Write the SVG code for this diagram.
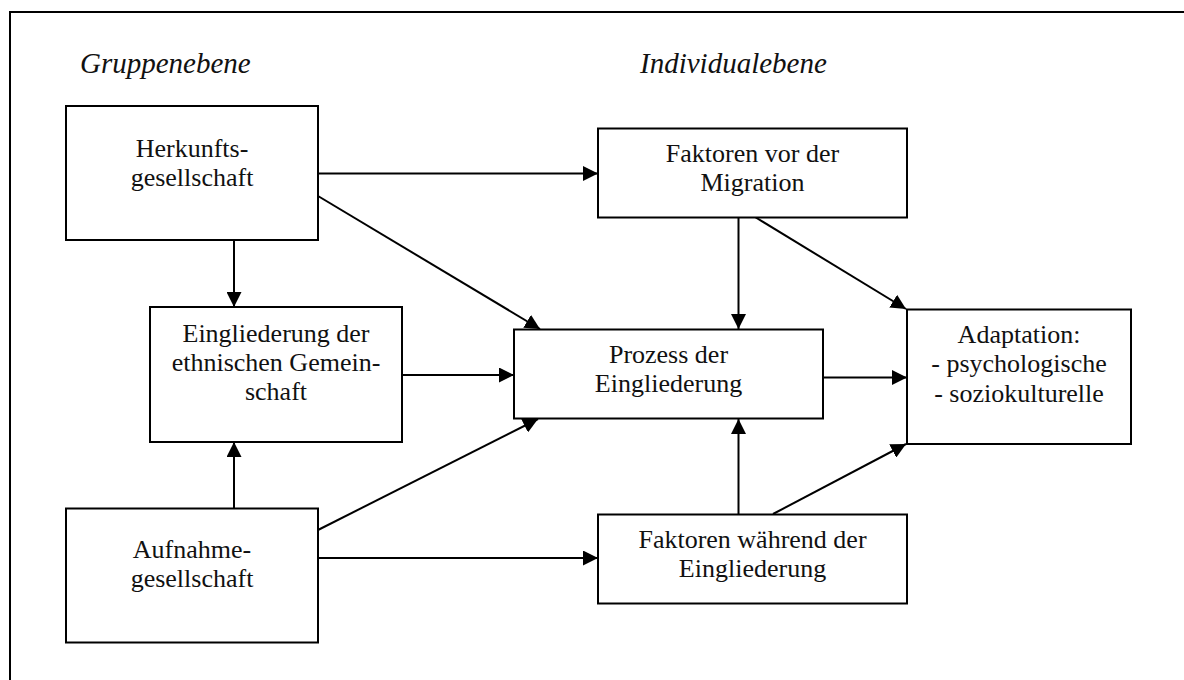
<svg xmlns="http://www.w3.org/2000/svg" width="1184" height="680" viewBox="0 0 1184 680">
<style>
.box{fill:#fff;stroke:#000;stroke-width:2}
.t{font-family:"Liberation Serif","Times New Roman",serif;font-size:26px;fill:#111;text-anchor:middle}
.h{font-family:"Liberation Serif","Times New Roman",serif;font-size:29px;font-style:italic;fill:#111}
.c{stroke:#000;stroke-width:2;fill:none;marker-end:url(#ah)}
</style>
<defs>
<marker id="ah" markerUnits="userSpaceOnUse" markerWidth="15" markerHeight="15" refX="15" refY="7.5" orient="auto" viewBox="0 0 15 15">
<path d="M0,0 L15,7.5 L0,15 z" fill="#000"/>
</marker>
</defs>
<rect width="1184" height="680" fill="#fff"/>
<rect x="10" y="12" width="1200" height="700" fill="none" stroke="#000" stroke-width="2"/>
<text class="h" x="80" y="73">Gruppenebene</text>
<text class="h" x="640" y="73">Individualebene</text>
<g id="connectors">
<line class="c" x1="318" y1="173.5" x2="598" y2="173.5"/>
<line class="c" x1="318" y1="196" x2="540" y2="329"/>
<line class="c" x1="234" y1="240" x2="234" y2="307"/>
<line class="c" x1="402" y1="375" x2="514" y2="375"/>
<line class="c" x1="234" y1="508" x2="234" y2="442"/>
<line class="c" x1="318" y1="530" x2="538" y2="419"/>
<line class="c" x1="318" y1="558" x2="598" y2="558"/>
<line class="c" x1="738.5" y1="217" x2="738.5" y2="329"/>
<line class="c" x1="755" y1="217" x2="906" y2="309"/>
<line class="c" x1="823" y1="377.5" x2="907" y2="377.5"/>
<line class="c" x1="738.5" y1="514" x2="738.5" y2="419"/>
<line class="c" x1="773" y1="514" x2="906" y2="444"/>
</g>
<g id="herkunft">
<rect class="box" x="66" y="106" width="252" height="134"/>
<text class="t" x="192" y="157">Herkunfts-</text>
<text class="t" x="192" y="186">gesellschaft</text>
</g>
<g id="faktoren-vor">
<rect class="box" x="598" y="128.5" width="309" height="89"/>
<text class="t" x="752.5" y="162">Faktoren vor der</text>
<text class="t" x="752.5" y="191">Migration</text>
</g>
<g id="eingliederung-ethn">
<rect class="box" x="150" y="307" width="252" height="135"/>
<text class="t" x="276" y="342">Eingliederung der</text>
<text class="t" x="276" y="371">ethnischen Gemein-</text>
<text class="t" x="276" y="400">schaft</text>
</g>
<g id="prozess">
<rect class="box" x="514" y="329.5" width="309" height="89"/>
<text class="t" x="668.5" y="363">Prozess der</text>
<text class="t" x="668.5" y="392">Eingliederung</text>
</g>
<g id="adaptation">
<rect class="box" x="907" y="309.5" width="224" height="134.5"/>
<text class="t" x="1019" y="343">Adaptation:</text>
<text class="t" x="1019" y="372">- psychologische</text>
<text class="t" x="1019" y="402">- soziokulturelle</text>
</g>
<g id="aufnahme">
<rect class="box" x="66" y="508.5" width="252" height="134"/>
<text class="t" x="192" y="558">Aufnahme-</text>
<text class="t" x="192" y="587">gesellschaft</text>
</g>
<g id="faktoren-waehrend">
<rect class="box" x="598" y="514.5" width="309" height="89"/>
<text class="t" x="752.5" y="548">Faktoren während der</text>
<text class="t" x="752.5" y="577">Eingliederung</text>
</g>
</svg>
